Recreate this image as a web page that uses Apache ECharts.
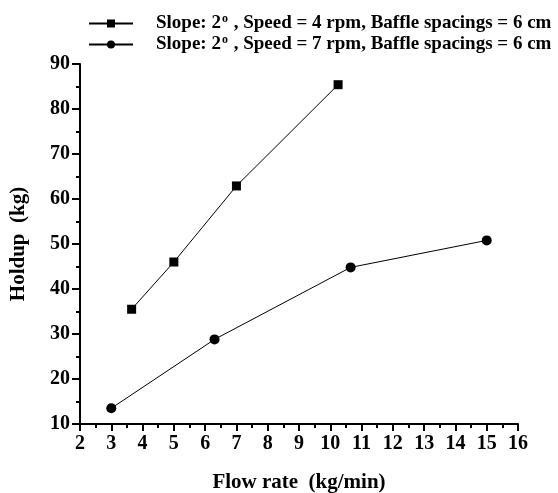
<!DOCTYPE html>
<html>
<head>
<meta charset="utf-8">
<script src="https://cdn.jsdelivr.net/npm/echarts@6/dist/echarts.min.js"></script>
<style>
  html, body { margin: 0; padding: 0; background: #fff; }
  #chart { width: 558px; height: 493px; }
</style>
</head>
<body>
<div id="chart"></div>
<script>
// flow rate (kg/min) vs holdup (kg)
var flow4rpm = [3.65, 5.0, 7.0, 10.25];
var holdup4rpm = [35.5, 46.0, 62.9, 85.4];
var flow7rpm = [3.0, 6.3, 10.65, 15.0];
var holdup7rpm = [13.5, 28.8, 44.8, 50.8];
var seriesNames = [
  "Slope: 2o , Speed = 4 rpm, Baffle spacings = 6 cm",
  "Slope: 2o , Speed = 7 rpm, Baffle spacings = 6 cm"
];
var xTicks = { min: 2, max: 16, step: 1 };
var yTicks = { min: 10, max: 90, step: 10 };

var font = "'Liberation Serif', 'Times New Roman', serif";

function pairs(xs, ys) {
  return xs.map(function (x, i) { return [x, ys[i]]; });
}

var chart = echarts.init(document.getElementById("chart"));
var option = {
  animation: false,
  backgroundColor: "#fff",
  grid: { left: 80, right: 40, top: 64, bottom: 69, outerBoundsMode: "none", containLabel: false },
  legend: {
    orient: "vertical",
    left: 83,
    top: 8,
    itemWidth: 44,
    itemHeight: 10,
    itemGap: 1,
    data: seriesNames,
    formatter: function (name) {
      var parts = name.split("2o");
      return "{t|" + parts[0] + "2}{sup|o}{t|" + parts[1] + "}";
    },
    textStyle: {
      padding: [0, 0, 0, 18],
      rich: {
        t: { fontFamily: font, fontWeight: "bold", fontSize: 19, color: "#000", lineHeight: 21 },
        sup: { fontFamily: font, fontWeight: "bold", fontSize: 12, color: "#000", padding: [0, 1, 9, 1] }
      }
    }
  },
  xAxis: {
    type: "value",
    min: xTicks.min,
    max: xTicks.max,
    interval: xTicks.step,
    name: "Flow rate  (kg/min)",
    nameLocation: "middle",
    nameGap: 48,
    nameTextStyle: { fontFamily: font, fontWeight: "bold", fontSize: 21, color: "#000" },
    axisLine: { lineStyle: { color: "#000", width: 2 } },
    axisTick: { length: 7, lineStyle: { color: "#000", width: 2 } },
    minorTick: { show: true, splitNumber: 2, length: 4, lineStyle: { color: "#000", width: 2 } },
    axisLabel: { fontFamily: font, fontWeight: "bold", fontSize: 20, color: "#000", margin: 10 },
    splitLine: { show: false }
  },
  yAxis: {
    type: "value",
    min: yTicks.min,
    max: yTicks.max,
    interval: yTicks.step,
    name: "Holdup  (kg)",
    nameLocation: "middle",
    nameGap: 51,
    nameTextStyle: { fontFamily: font, fontWeight: "bold", fontSize: 21, color: "#000" },
    axisLine: { show: true, lineStyle: { color: "#000", width: 2 } },
    axisTick: { show: true, length: 8, lineStyle: { color: "#000", width: 2 } },
    minorTick: { show: true, splitNumber: 2, length: 4, lineStyle: { color: "#000", width: 2 } },
    axisLabel: { fontFamily: font, fontWeight: "bold", fontSize: 20, color: "#000", margin: 10 },
    splitLine: { show: false }
  },
  series: [
    {
      name: seriesNames[0],
      type: "line",
      data: pairs(flow4rpm, holdup4rpm),
      symbol: "rect",
      symbolSize: 9,
      itemStyle: { color: "#000" },
      lineStyle: { color: "#000", width: 1 }
    },
    {
      name: seriesNames[1],
      type: "line",
      data: pairs(flow7rpm, holdup7rpm),
      symbol: "circle",
      symbolSize: 10,
      itemStyle: { color: "#000" },
      lineStyle: { color: "#000", width: 1 }
    }
  ]
};
chart.setOption(option);
</script>
</body>
</html>
